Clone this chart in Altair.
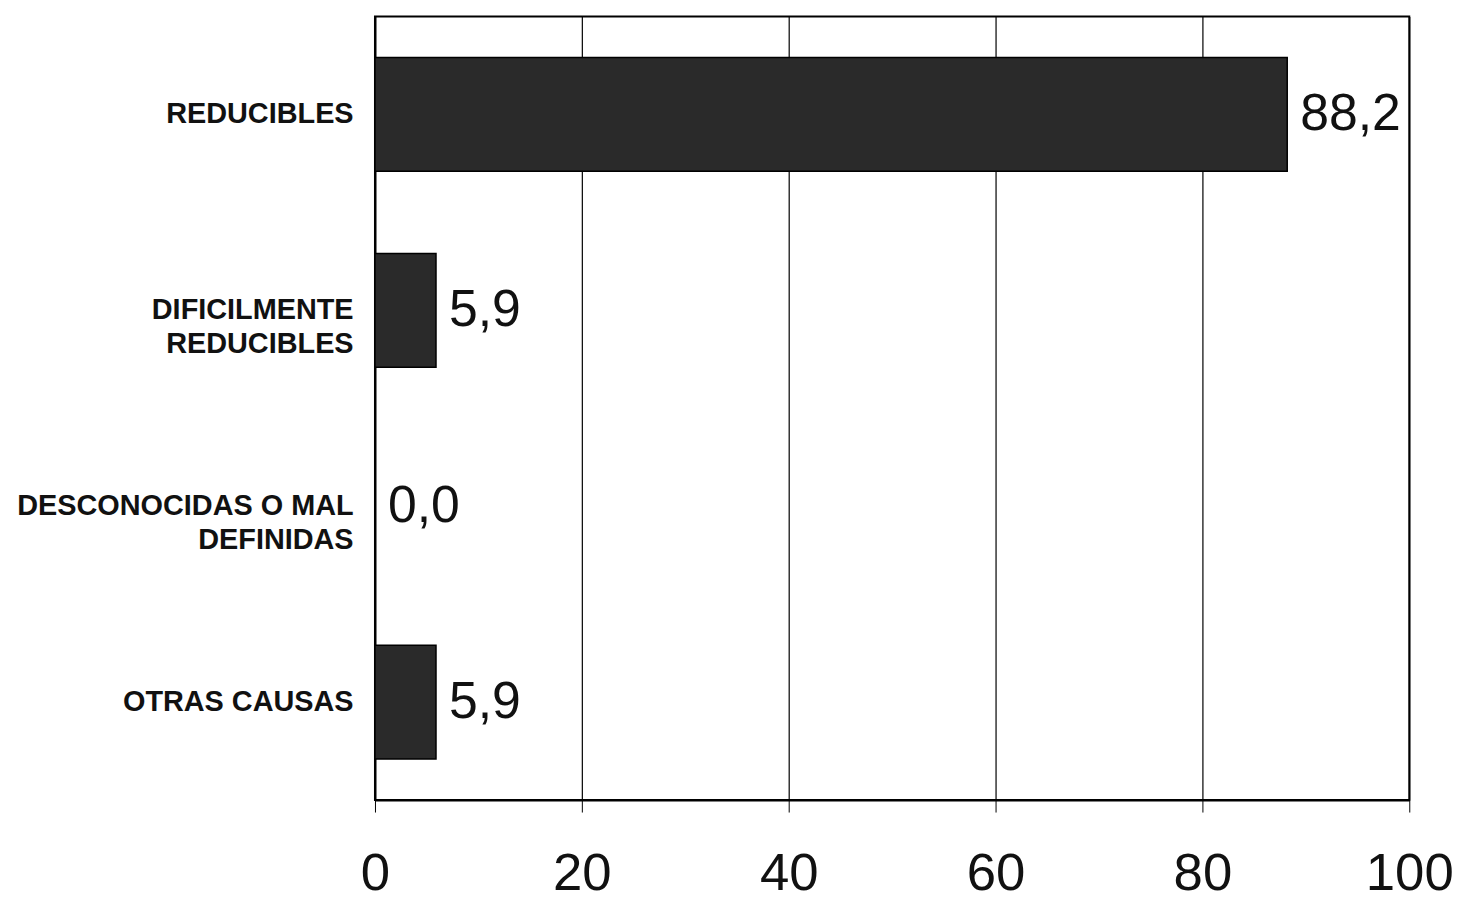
import altair as alt
import pandas as pd

categories = ["REDUCIBLES", "DIFICILMENTE\nREDUCIBLES", "DESCONOCIDAS O MAL\nDEFINIDAS", "OTRAS CAUSAS"]
values = [88.2, 5.9, 0.0, 5.9]
value_labels = ["88,2", "5,9", "0,0", "5,9"]
x_ticks = [0, 20, 40, 60, 80, 100]

df = pd.DataFrame({"cat": categories, "value": values, "label": value_labels})

y_enc = alt.Y(
    "cat:N",
    sort=categories,
    scale=alt.Scale(paddingInner=0.42, paddingOuter=0.21),
    axis=alt.Axis(
        title=None,
        labelExpr="split(datum.value, '\\n')",
        labelFont="Liberation Sans",
        labelFontWeight="bold",
        labelFontSize=29,
        labelLineHeight=34,
        labelColor="#111111",
        labelPadding=22,
        labelLimit=600,
        ticks=False,
        domain=True,
        domainColor="black",
        domainWidth=2,
        grid=False,
    ),
)

x_enc = alt.X(
    "value:Q",
    scale=alt.Scale(domain=[0, 100], nice=False),
    axis=alt.Axis(
        title=None,
        values=x_ticks,
        labelFont="Liberation Sans",
        labelFontSize=53,
        labelColor="#111111",
        labelPadding=36,
        labelFlush=False,
        labelOverlap=False,
        tickSize=12,
        tickColor="black",
        domainColor="black",
        domainWidth=2,
        grid=True,
        gridColor="black",
        gridOpacity=1,
        gridWidth=1.2,
    ),
)

bars = alt.Chart(df).mark_bar(color="#2a2a2a", stroke="black", strokeWidth=1.5).encode(
    x=x_enc, y=y_enc
)

text = alt.Chart(df).mark_text(
    align="left", baseline="middle", dx=13, fontSize=52, font="Liberation Sans", color="#111111"
).encode(
    x=alt.X("value:Q"),
    y=alt.Y("cat:N", sort=categories),
    text="label:N",
)

chart = (
    alt.layer(bars, text)
    .properties(width=1040, height=788, background="white", padding={"top": 6, "left": 8, "right": 5, "bottom": 5})
    .configure_view(stroke="black", strokeWidth=2)
)

chart.save("out.html", embed_options={"renderer": "svg", "actions": False})
